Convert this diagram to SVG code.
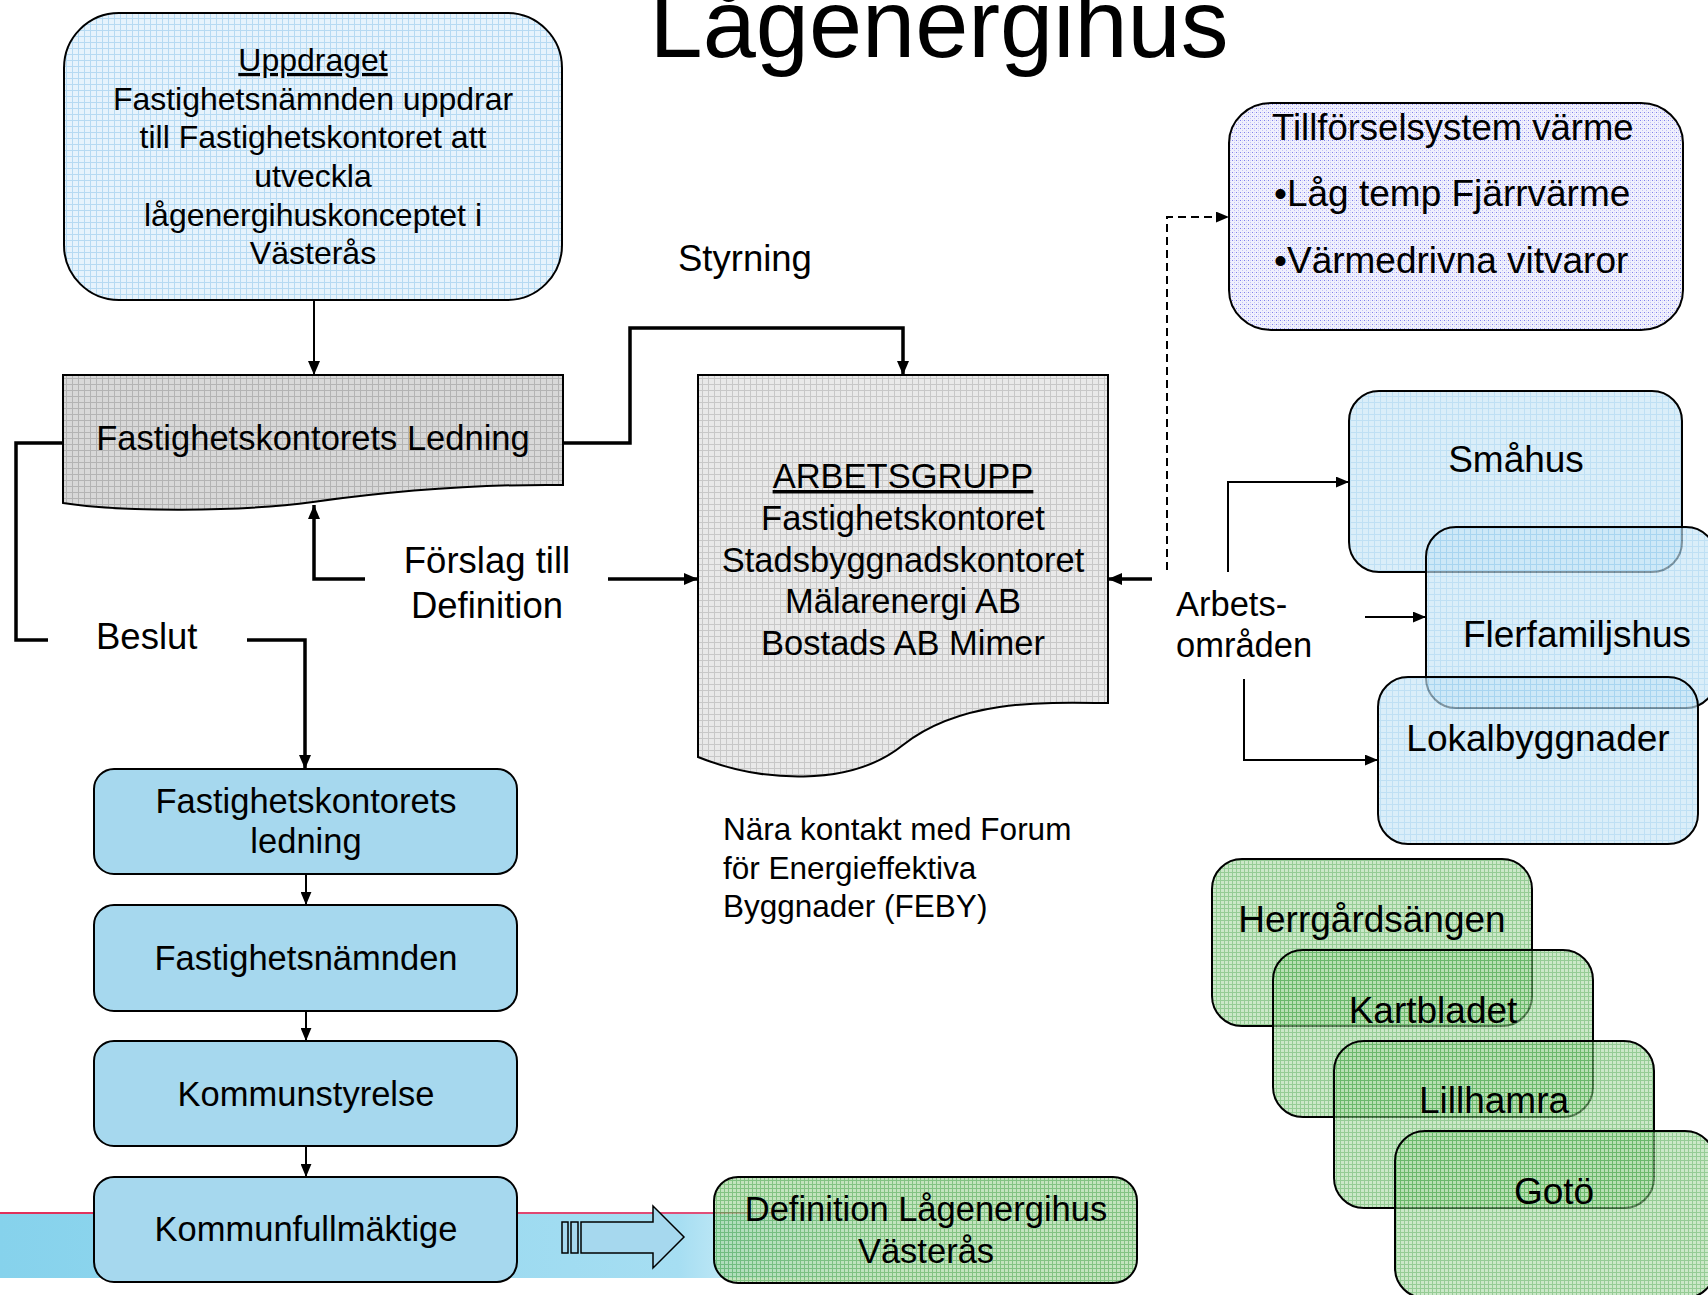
<svg xmlns="http://www.w3.org/2000/svg" width="1708" height="1295" viewBox="0 0 1708 1295">
<style>
text{font-family:"Liberation Sans",Arial,sans-serif;fill:#000}
.c{text-anchor:middle}
.t32{font-size:32px}
.t345{font-size:34.5px}
.t365{font-size:36.5px}
.t37{font-size:37px}
.box{stroke:#000;stroke-width:2}
.ln{fill:none;stroke:#000;stroke-width:2}
.thk{fill:none;stroke:#000;stroke-width:3.5}
</style>
<defs>
<pattern id="pBlue" width="6" height="6" patternUnits="userSpaceOnUse"><rect width="6" height="6" fill="#e6f3fc"/><path d="M0,0.5H6M0.5,0V6" stroke="#b6daf2" stroke-width="1"/></pattern>
<pattern id="pBlue2" width="6" height="6" patternUnits="userSpaceOnUse"><rect width="6" height="6" fill="#c6e5f6"/><path d="M0,0.5H6M0.5,0V6" stroke="#9ccfee" stroke-width="1"/></pattern>
<pattern id="pGray" width="6" height="6" patternUnits="userSpaceOnUse"><rect width="6" height="6" fill="#d8d8d8"/><path d="M0,0.5H6M0.5,0V6" stroke="#b4b4b4" stroke-width="1"/></pattern>
<pattern id="pLGray" width="6" height="6" patternUnits="userSpaceOnUse"><rect width="6" height="6" fill="#e9e9e9"/><path d="M0,0.5H6M0.5,0V6" stroke="#c8c8c8" stroke-width="1"/></pattern>
<pattern id="pLav" width="4" height="4" patternUnits="userSpaceOnUse"><rect width="4" height="4" fill="#f0f0fd"/><rect width="1" height="1" fill="#8080ec"/><rect x="2" y="2" width="1" height="1" fill="#c4c4f6"/><rect x="2" y="0" width="1" height="1" fill="#d4d4f8"/></pattern>
<pattern id="pGreen" width="4" height="4" patternUnits="userSpaceOnUse"><rect width="4" height="4" fill="#a9d9a3"/><path d="M0,0.5H4M0.5,0V4" stroke="#4faa4f" stroke-width="1"/></pattern>
<linearGradient id="band" x1="0" y1="0" x2="1" y2="0">
<stop offset="0" stop-color="#86d2ec"/>
<stop offset="0.75" stop-color="#a6def2"/>
<stop offset="1" stop-color="#c8ecf8" stop-opacity="0"/>
</linearGradient>
<linearGradient id="pink" x1="0" y1="0" x2="1" y2="0">
<stop offset="0" stop-color="#e0305a"/>
<stop offset="0.8" stop-color="#e0507a"/>
<stop offset="1" stop-color="#e0507a" stop-opacity="0"/>
</linearGradient>
<marker id="ah" viewBox="0 0 14 12" refX="14" refY="6" markerWidth="14" markerHeight="12" markerUnits="userSpaceOnUse" orient="auto"><path d="M0,0L14,6L0,12z" fill="#000"/></marker>
<marker id="ahs" viewBox="0 0 12 10" refX="12" refY="5" markerWidth="13" markerHeight="11" markerUnits="userSpaceOnUse" orient="auto"><path d="M0,0L12,5L0,10z" fill="#000"/></marker>
</defs>

<g id="background-band">
<rect x="0" y="1213" width="905" height="65" fill="url(#band)"/>
<rect x="0" y="1212" width="905" height="2" fill="url(#pink)"/>
</g>

<text id="title" x="939" y="57" class="c" style="font-size:95.5px">Lågenergihus</text>

<g id="uppdraget">
<rect x="64" y="13" width="498" height="287" rx="55" ry="55" fill="url(#pBlue)" class="box"/>
<text class="c t32" x="313" y="71" text-decoration="underline">Uppdraget</text>
<text class="c t32" x="313" y="110">Fastighetsnämnden uppdrar</text>
<text class="c t32" x="313" y="148">till Fastighetskontoret att</text>
<text class="c t32" x="313" y="187">utveckla</text>
<text class="c t32" x="313" y="226">lågenergihuskonceptet i</text>
<text class="c t32" x="313" y="264">Västerås</text>
</g>

<g id="ledning">
<path d="M63,375H563V485C480,484 400,490 313,502C240,512 120,512 63,503Z" fill="url(#pGray)" class="box"/>
<text class="c t345" x="313" y="450">Fastighetskontorets Ledning</text>
</g>

<g id="arbetsgrupp">
<path d="M698,375H1108V703C1040,702 960,700 903,745C850,788 760,782 698,757Z" fill="url(#pLGray)" class="box"/>
<text class="c t345" x="903" y="488" text-decoration="underline">ARBETSGRUPP</text>
<text class="c t345" x="903" y="530">Fastighetskontoret</text>
<text class="c t345" x="903" y="572">Stadsbyggnadskontoret</text>
<text class="c t345" x="903" y="613">Mälarenergi AB</text>
<text class="c t345" x="903" y="655">Bostads AB Mimer</text>
</g>

<g id="tillforsel">
<rect x="1229" y="103" width="454" height="227" rx="42" ry="40" fill="url(#pLav)" class="box"/>
<text class="t365" x="1272" y="140">Tillförselsystem värme</text>
<text class="t37" x="1274" y="206">•Låg temp Fjärrvärme</text>
<text class="t37" x="1274" y="273">•Värmedrivna vitvaror</text>
</g>

<g id="smahus">
<rect x="1349" y="391" width="333" height="181" rx="30" ry="30" fill="url(#pBlue2)" fill-opacity="0.65" class="box"/>
<text class="c t37" x="1516" y="472">Småhus</text>
</g>
<g id="flerfamiljshus">
<rect x="1426" y="527" width="290" height="181" rx="30" ry="30" fill="url(#pBlue2)" fill-opacity="0.65" class="box"/>
<text class="c t37" x="1577" y="647">Flerfamiljshus</text>
</g>
<g id="lokalbyggnader">
<rect x="1378" y="677" width="320" height="167" rx="30" ry="30" fill="url(#pBlue2)" fill-opacity="0.65" class="box"/>
<text class="c t37" x="1538" y="751">Lokalbyggnader</text>
</g>

<g id="herrgardsangen">
<rect x="1212" y="859" width="320" height="167" rx="30" ry="30" fill="url(#pGreen)" fill-opacity="0.6" class="box"/>
<text class="c t37" x="1372" y="932">Herrgårdsängen</text>
</g>
<g id="kartbladet">
<rect x="1273" y="950" width="320" height="167" rx="30" ry="30" fill="url(#pGreen)" fill-opacity="0.6" class="box"/>
<text class="c t37" x="1433" y="1023">Kartbladet</text>
</g>
<g id="lillhamra">
<rect x="1334" y="1041" width="320" height="167" rx="30" ry="30" fill="url(#pGreen)" fill-opacity="0.6" class="box"/>
<text class="c t37" x="1494" y="1113">Lillhamra</text>
</g>
<g id="goto">
<rect x="1395" y="1131" width="320" height="167" rx="30" ry="30" fill="url(#pGreen)" fill-opacity="0.6" class="box"/>
<text class="c t37" x="1554" y="1204">Gotö</text>
</g>

<g id="fk-ledning">
<rect x="94" y="769" width="423" height="105" rx="20" ry="20" fill="#a6d8ee" class="box"/>
<text class="c t345" x="306" y="813">Fastighetskontorets</text>
<text class="c t345" x="306" y="853">ledning</text>
</g>
<g id="fastighetsnamnden">
<rect x="94" y="905" width="423" height="106" rx="20" ry="20" fill="#a6d8ee" class="box"/>
<text class="c t345" x="306" y="970">Fastighetsnämnden</text>
</g>
<g id="kommunstyrelse">
<rect x="94" y="1041" width="423" height="105" rx="20" ry="20" fill="#a6d8ee" class="box"/>
<text class="c t345" x="306" y="1106">Kommunstyrelse</text>
</g>
<g id="kommunfullmaktige">
<rect x="94" y="1177" width="423" height="105" rx="20" ry="20" fill="#a6d8ee" class="box"/>
<text class="c t345" x="306" y="1241">Kommunfullmäktige</text>
</g>

<g id="definition">
<rect x="714" y="1177" width="423" height="106" rx="24" ry="24" fill="url(#pGreen)" fill-opacity="0.7" class="box"/>
<text class="c t345" x="926" y="1221">Definition Lågenergihus</text>
<text class="c t345" x="926" y="1263">Västerås</text>
</g>

<g id="labels">
<text class="t365" x="678" y="271">Styrning</text>
<text class="c t365" x="487" y="573">Förslag till</text>
<text class="c t365" x="487" y="618">Definition</text>
<text class="t365" x="96" y="649">Beslut</text>
<text class="t345" x="1176" y="616">Arbets-</text>
<text class="t345" x="1176" y="657">områden</text>
<text style="font-size:31.5px" x="723" y="840">Nära kontakt med Forum</text>
<text style="font-size:31.5px" x="723" y="879">för Energieffektiva</text>
<text style="font-size:31.5px" x="723" y="917">Byggnader (FEBY)</text>
</g>

<g id="connectors">
<path class="ln" d="M314,300V375" marker-end="url(#ah)"/>
<path class="thk" d="M563,443H630V328H903V375" marker-end="url(#ah)"/>
<path class="thk" d="M63,443H16V640H48"/>
<path class="thk" d="M247,640H305V769" marker-end="url(#ah)"/>
<path class="thk" d="M365,579H314V505" marker-end="url(#ah)"/>
<path class="thk" d="M608,579H698" marker-end="url(#ah)"/>
<path class="thk" d="M1152,579H1108" marker-end="url(#ah)"/>
<path class="ln" d="M1167,570V217H1229" stroke-dasharray="8,5" marker-end="url(#ahs)"/>
<path class="ln" d="M1228,572V482H1349" marker-end="url(#ahs)"/>
<path class="ln" d="M1365,617H1426" marker-end="url(#ahs)"/>
<path class="ln" d="M1244,679V760H1378" marker-end="url(#ahs)"/>
<path class="ln" d="M306,874V905" marker-end="url(#ahs)"/>
<path class="ln" d="M306,1011V1041" marker-end="url(#ahs)"/>
<path class="ln" d="M306,1146V1177" marker-end="url(#ahs)"/>
<g id="block-arrow" fill="#a6d8ee" stroke="#000" stroke-width="1.5">
<rect x="562" y="1222" width="6" height="31"/>
<rect x="571" y="1222" width="7" height="31"/>
<path d="M581,1222H653V1206L684,1237L653,1268V1253H581Z"/>
</g>
</g>
</svg>
